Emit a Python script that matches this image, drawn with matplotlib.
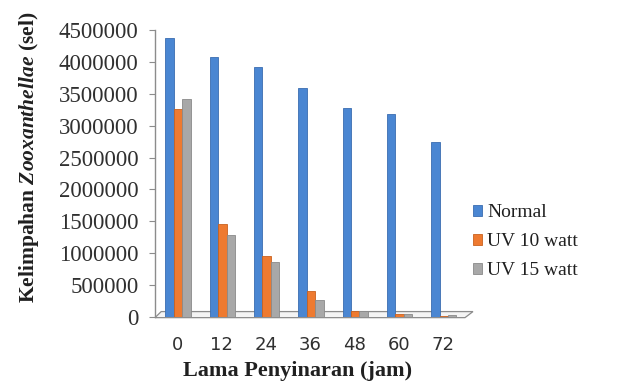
import matplotlib
matplotlib.use("Agg")
import matplotlib.pyplot as plt
from matplotlib.patches import Polygon
import numpy as np

# Data: cell abundance of Zooxanthellae vs. irradiation duration
hours = ["0", "12", "24", "36", "48", "60", "72"]
normal = [4370000, 4080000, 3920000, 3590000, 3270000, 3180000, 2750000]
uv10 = [3260000, 1460000, 950000, 400000, 100000, 50000, 20000]
uv15 = [3420000, 1290000, 870000, 270000, 90000, 40000, 30000]
series_names = ["Normal", "UV 10 watt", "UV 15 watt"]

colors = ["#4A86D2", "#EE7A30", "#A8A8A8"]
edges = ["#3A6DB0", "#C9621F", "#8A8A8A"]

plt.rcParams["mathtext.fontset"] = "custom"
plt.rcParams["mathtext.it"] = "Liberation Serif:italic:bold"
plt.rcParams["mathtext.rm"] = "Liberation Serif:bold"
plt.rcParams["mathtext.bf"] = "Liberation Serif:bold"

fig = plt.figure(figsize=(6.19, 3.87), dpi=100)
ax = fig.add_axes([155 / 619, 70 / 387, 310 / 619, 287 / 387])

x = np.arange(len(hours))
w = 0.19
offsets = [-w, 0.0, w]
for vals, off, c, ec, name in zip([normal, uv10, uv15], offsets, colors, edges, series_names):
    ax.bar(x + off + 0.02, vals, width=w, color=c, edgecolor=ec, linewidth=0.6,
           label=name, zorder=3)

# floor of the plot area
floor = Polygon([(-0.5, -10000), (6.5, -10000), (6.68, 85000), (-0.36, 85000)],
                closed=True, facecolor="#F4F4F4", edgecolor="#8C8C8C",
                linewidth=0.9, clip_on=False, zorder=1)
ax.add_patch(floor)

ax.set_xlim(-0.5, 6.5)
ax.set_ylim(0, 4500000)
ax.set_yticks(np.arange(0, 4500001, 500000))
ax.set_yticklabels([f"{v:d}" for v in range(0, 4500001, 500000)],
                   fontfamily="Liberation Serif", fontsize=16.5, color="#303030")
ax.set_xticks(x)
ax.set_xticklabels(hours, fontfamily="DejaVu Sans", fontsize=13, color="#303030")

for s in ["top", "right", "bottom"]:
    ax.spines[s].set_visible(False)
ax.spines["left"].set_color("#8C8C8C")
ax.spines["left"].set_linewidth(1.0)
ax.tick_params(axis="y", length=4, color="#8C8C8C", pad=8)
ax.tick_params(axis="x", length=0, pad=14)

ax.set_xlabel("Lama Penyinaran (jam)", fontfamily="Liberation Serif",
              fontweight="bold", fontsize=16, color="#202020")
ax.xaxis.set_label_coords(0.46, -0.155)
ax.set_ylabel(r"Kelimpahan $\mathit{Zooxanthellae}$ (sel)", fontfamily="Liberation Serif",
              fontweight="bold", fontsize=15.5, color="#202020")
ax.yaxis.set_label_coords(-0.368, 0.555)

leg = ax.legend(loc="upper left", bbox_to_anchor=(1.0, 0.42), frameon=False,
                prop={"family": "Liberation Serif", "size": 14},
                handlelength=0.45, handleheight=0.45, handletextpad=0.3,
                labelspacing=0.62, borderaxespad=0)
for t in leg.get_texts():
    t.set_color("#202020")

fig.savefig("out.png", dpi=100)
